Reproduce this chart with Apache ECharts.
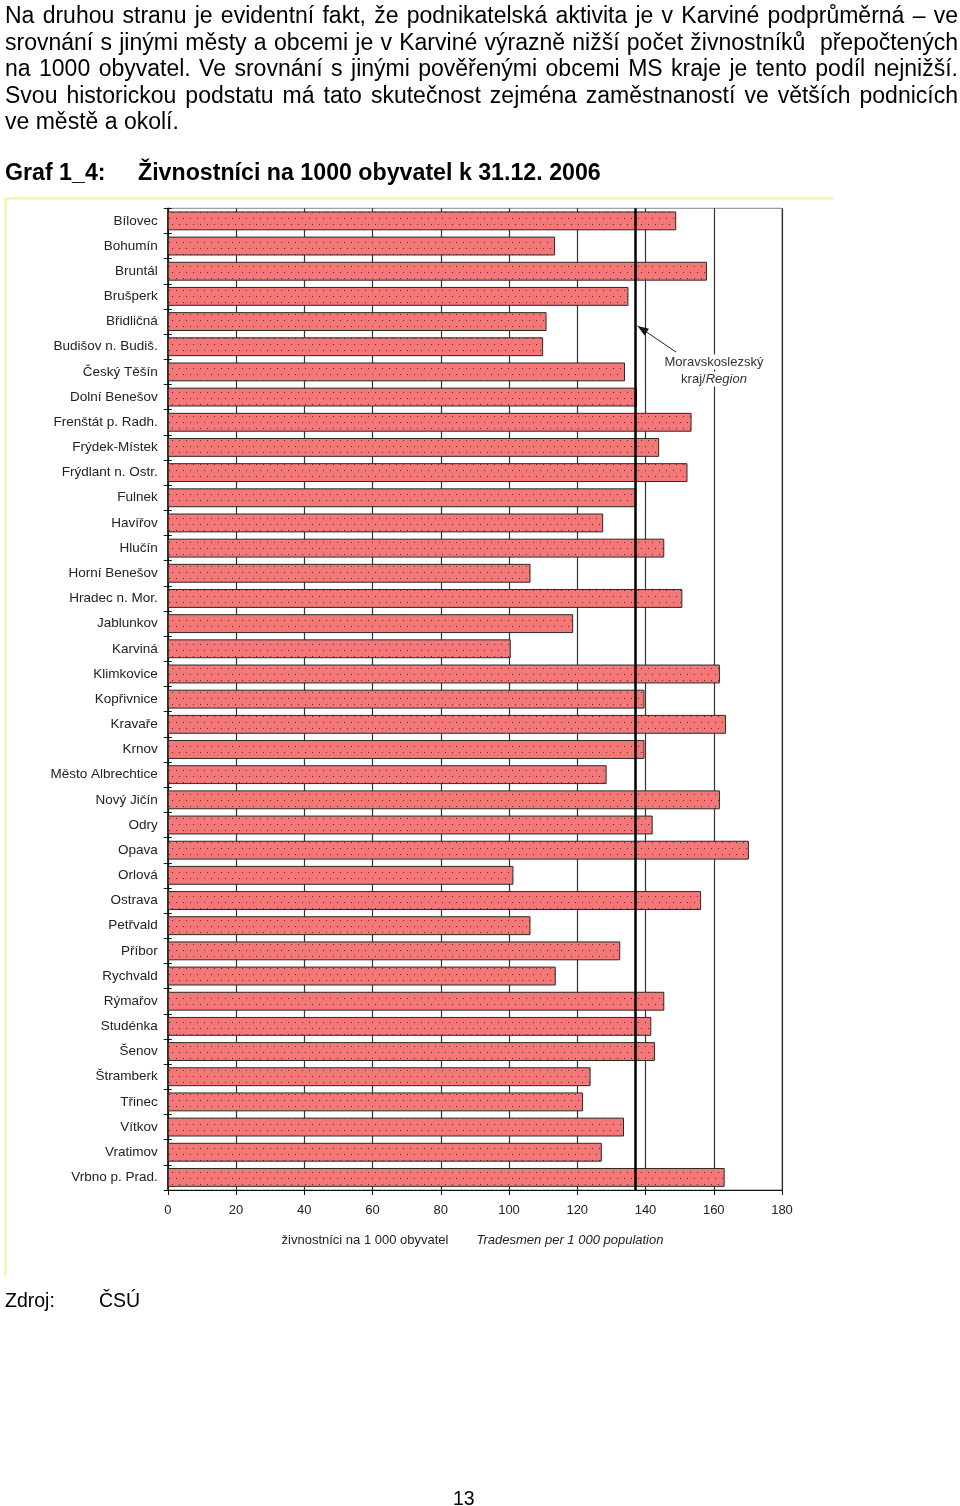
<!DOCTYPE html>
<html>
<head>
<meta charset="utf-8">
<script src="https://cdn.jsdelivr.net/npm/echarts@6/dist/echarts.min.js"></script>
<style>
html,body{margin:0;padding:0;background:#fff;}
body{width:960px;height:1506px;position:relative;overflow:hidden;font-family:"Liberation Sans",Arial,sans-serif;color:#000;}
#chart{position:absolute;left:0;top:0;width:960px;height:1506px;}
.para{position:absolute;left:5px;top:2px;width:953px;font-size:23px;line-height:26.5px;z-index:2;}
.para div{text-align:justify;text-align-last:justify;white-space:nowrap;}
.para div.last{text-align-last:left;}
.title{position:absolute;top:158px;left:5px;font-size:23.2px;font-weight:bold;line-height:28px;z-index:2;white-space:nowrap;}
.title span.b{position:absolute;left:133px;}
.src{position:absolute;top:1288px;left:5px;font-size:19.5px;line-height:24px;z-index:2;white-space:nowrap;}
.src span.b{position:absolute;left:94px;}
.pg{position:absolute;top:1486px;left:453px;font-size:19.5px;line-height:24px;z-index:2;}
</style>
</head>
<body>
<div id="chart"></div>
<div class="para">
<div>Na druhou stranu je evidentní fakt, že podnikatelská aktivita je v Karviné podprůměrná – ve</div>
<div>srovnání s jinými městy a obcemi je v Karviné výrazně nižší počet živnostníků&nbsp; přepočtených</div>
<div>na 1000 obyvatel. Ve srovnání s jinými pověřenými obcemi MS kraje je tento podíl nejnižší.</div>
<div>Svou historickou podstatu má tato skutečnost zejména zaměstnaností ve větších podnicích</div>
<div class="last">ve městě a okolí.</div>
</div>
<div class="title">Graf 1_4:<span class="b">Živnostníci na 1000 obyvatel k 31.12. 2006</span></div>
<div class="src">Zdroj:<span class="b">ČSÚ</span></div>
<div class="pg">13</div>
<script>
// ---- data ----
const categories = ["Bílovec","Bohumín","Bruntál","Brušperk","Břidličná","Budišov n. Budiš.","Český Těšín","Dolní Benešov","Frenštát p. Radh.","Frýdek-Místek","Frýdlant n. Ostr.","Fulnek","Havířov","Hlučín","Horní Benešov","Hradec n. Mor.","Jablunkov","Karviná","Klimkovice","Kopřivnice","Kravaře","Krnov","Město Albrechtice","Nový Jičín","Odry","Opava","Orlová","Ostrava","Petřvald","Příbor","Rychvald","Rýmařov","Studénka","Šenov","Štramberk","Třinec","Vítkov","Vratimov","Vrbno p. Prad."];
const values = [149.0,113.5,158.0,135.0,111.0,110.0,134.0,137.5,153.5,144.0,152.3,137.3,127.6,145.5,106.3,150.8,118.8,100.5,161.8,139.7,163.6,139.7,128.6,161.8,142.1,170.3,101.3,156.3,106.3,132.6,113.7,145.5,141.7,142.8,123.9,121.7,133.7,127.2,163.2];
const regionValue = 137.1;
const xTicks = [0,20,40,60,80,100,120,140,160,180];
const axisNameCz = "živnostníci na 1 000 obyvatel";
const axisNameEn = "Tradesmen per 1 000 population";
const annotLine1 = "Moravskoslezský";
const annotLine2a = "kraj/";
const annotLine2b = "Region";

// dotted fill pattern
const pc = document.createElement('canvas');
pc.width = 7; pc.height = 12;
const ctx = pc.getContext('2d');
ctx.fillStyle = '#f47878';
ctx.fillRect(0,0,7,12);
ctx.fillStyle = '#6a2020';
ctx.fillRect(1,2,1,1);
ctx.fillRect(4,8,1,1);

const chart = echarts.init(document.getElementById('chart'), null, {renderer:'canvas'});
const FF = '"Liberation Sans", Arial, sans-serif';
const labelFont = {fontFamily:FF, fontSize:13.5, color:'#222'};

chart.setOption({
  animation:false,
  backgroundColor:'#fff',
  grid:{left:167.75, right:178, top:208.3, bottom:316, show:true, borderColor:'#888', borderWidth:1, containLabel:false},
  xAxis:{
    type:'value', min:xTicks[0], max:xTicks[xTicks.length-1], interval:xTicks[1]-xTicks[0],
    axisLine:{show:true, lineStyle:{color:'#111', width:1}},
    axisTick:{show:true, length:5, lineStyle:{color:'#111'}},
    axisLabel:Object.assign({margin:14}, labelFont, {fontSize:13}),
    splitLine:{show:true, lineStyle:{color:'#333', width:1.2}}
  },
  yAxis:[{
    type:'category', data:categories, inverse:true,
    axisLine:{show:true, lineStyle:{color:'#111', width:1.5}},
    axisTick:{show:true, length:4, lineStyle:{color:'#111'}},
    axisLabel:Object.assign({margin:10}, labelFont),
    splitLine:{show:false}
  },{
    type:'category', data:categories, inverse:true, position:'left',
    axisLine:{show:false},
    axisTick:{show:true, inside:true, length:4, lineStyle:{color:'#111'}},
    axisLabel:{show:false},
    splitLine:{show:false}
  }],
  series:[{
    type:'bar', data:values, yAxisIndex:0, barCategoryGap:'25%',
    itemStyle:{color:{image:pc, repeat:'repeat'}, borderColor:'#2a2a2a', borderWidth:1},
    markLine:{silent:true, symbol:['none','none'], label:{show:false},
      lineStyle:{color:'#000', width:2.5, type:'solid'},
      data:[{xAxis:regionValue}]}
  }]
});

const tipX = chart.convertToPixel({xAxisIndex:0}, regionValue);
const ax = tipX + 2, ay = 326, bx = 676, by = 352;
const ang = Math.atan2(by-ay, bx-ax);
const hl = 11, hw = 4;
const p1 = [ax + hl*Math.cos(ang) - hw*Math.sin(ang), ay + hl*Math.sin(ang) + hw*Math.cos(ang)];
const p2 = [ax + hl*Math.cos(ang) + hw*Math.sin(ang), ay + hl*Math.sin(ang) - hw*Math.cos(ang)];

chart.setOption({
  graphic:[
    {type:'line', shape:{x1:5,y1:198.5,x2:833,y2:198.5}, style:{stroke:'#f4f4a0', lineWidth:2}, z:10},
    {type:'line', shape:{x1:5.5,y1:198,x2:5.5,y2:1275}, style:{stroke:'#f4f4a0', lineWidth:2}, z:10},
    {type:'line', shape:{x1:ax,y1:ay,x2:bx,y2:by}, style:{stroke:'#222', lineWidth:1}, z:20},
    {type:'polygon', shape:{points:[[ax,ay],p1,p2]}, style:{fill:'#111'}, z:20},
    {type:'text', x:714, y:362, z:20, style:{text:annotLine1, align:'center', verticalAlign:'middle',
      font:'13px ' + FF, fill:'#333', backgroundColor:'#fff', padding:[1,1]}},
    {type:'text', x:714, y:379, z:20, style:{text:'{a|'+annotLine2a+'}{b|'+annotLine2b+'}', align:'center', verticalAlign:'middle',
      backgroundColor:'#fff', padding:[1,1],
      rich:{a:{font:'13px ' + FF, fill:'#333'}, b:{font:'italic 13px ' + FF, fill:'#333'}}}},
    {type:'text', x:365, y:1240, z:20, style:{text:axisNameCz, align:'center', verticalAlign:'middle',
      font:'13px ' + FF, fill:'#222'}},
    {type:'text', x:570, y:1240, z:20, style:{text:axisNameEn, align:'center', verticalAlign:'middle',
      font:'italic 13px ' + FF, fill:'#222'}}
  ]
});
</script>
</body>
</html>
